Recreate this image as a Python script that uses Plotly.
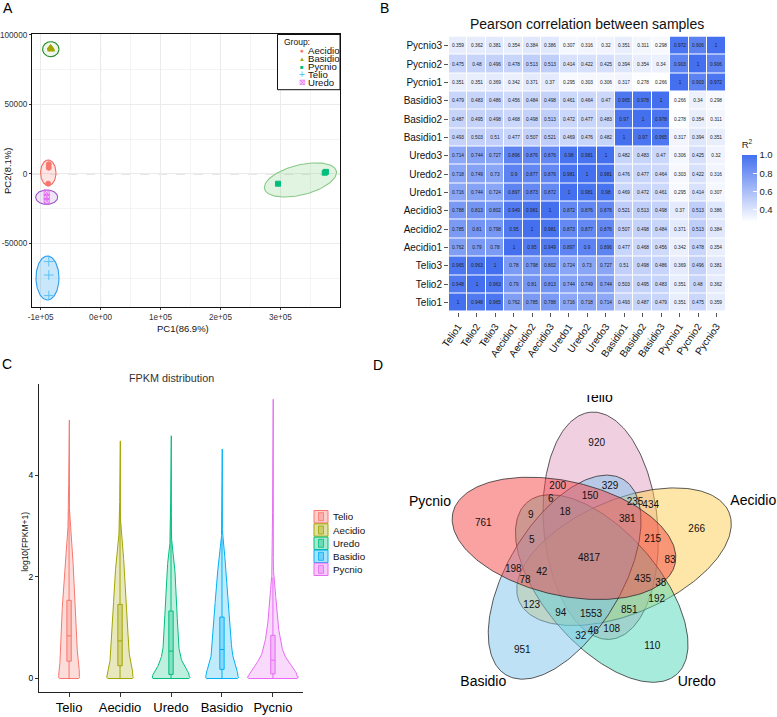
import numpy as np
import plotly.graph_objects as go

W, H = 777, 717
FONT = "Liberation Sans, Arial, Helvetica, sans-serif"


def fx(p):
    return p / W


def fy(p):
    return 1 - p / H


# ===================== DATA =====================
# ---- Panel A: PCA ----
pca_groups = ["Aecidio", "Basidio", "Pycnio", "Telio", "Uredo"]
aecidio_pc1 = [-86500, -86500, -87500]
aecidio_pc2 = [7000, 4500, -7000]
basidio_pc1 = [-83500, -82500, -83000]
basidio_pc2 = [91000, 89500, 90300]
pycnio_pc1 = [296000, 374000, 376000]
pycnio_pc2 = [-7000, 900, 1500]
telio_pc1 = [-86500, -86500, -86500]
telio_pc2 = [-63000, -72700, -87500]
uredo_pc1 = [-90000, -90000, -90000]
uredo_pc2 = [-13500, -16500, -19500]
ellipse_cx = [-87333, -83167, 333500, -88667, -90000]
ellipse_cy = [863, 89784, -4300, -74820, -16690]
pca_xticks = [-1e5, 0, 1e5, 2e5, 3e5]
pca_xticklabels = ["-1e+05", "0e+00", "1e+05", "2e+05", "3e+05"]
pca_yticks = [-50000, 0, 50000, 100000]
pca_yticklabels = ["-50000", "0", "50000", "100000"]

# ---- Panel B: Pearson correlation ----
samples = ["Telio1", "Telio2", "Telio3", "Aecidio1", "Aecidio2", "Aecidio3",
           "Uredo1", "Uredo2", "Uredo3", "Basidio1", "Basidio2", "Basidio3",
           "Pycnio1", "Pycnio2", "Pycnio3"]
corr_values = [
    [1, 0.948, 0.965, 0.762, 0.785, 0.788, 0.716, 0.718, 0.714, 0.493, 0.487, 0.479, 0.351, 0.475, 0.359],
    [0.948, 1, 0.963, 0.79, 0.81, 0.813, 0.744, 0.749, 0.744, 0.503, 0.495, 0.483, 0.351, 0.48, 0.362],
    [0.965, 0.963, 1, 0.78, 0.798, 0.802, 0.724, 0.73, 0.727, 0.51, 0.498, 0.486, 0.369, 0.496, 0.381],
    [0.762, 0.79, 0.78, 1, 0.95, 0.949, 0.897, 0.9, 0.896, 0.477, 0.468, 0.456, 0.342, 0.478, 0.354],
    [0.785, 0.81, 0.798, 0.95, 1, 0.981, 0.873, 0.877, 0.876, 0.507, 0.498, 0.484, 0.371, 0.513, 0.384],
    [0.788, 0.813, 0.802, 0.949, 0.981, 1, 0.872, 0.876, 0.876, 0.521, 0.513, 0.498, 0.37, 0.513, 0.386],
    [0.716, 0.744, 0.724, 0.897, 0.873, 0.872, 1, 0.981, 0.98, 0.469, 0.472, 0.461, 0.295, 0.414, 0.307],
    [0.718, 0.749, 0.73, 0.9, 0.877, 0.876, 0.981, 1, 0.981, 0.476, 0.477, 0.464, 0.303, 0.422, 0.316],
    [0.714, 0.744, 0.727, 0.896, 0.876, 0.876, 0.98, 0.981, 1, 0.482, 0.483, 0.47, 0.306, 0.425, 0.32],
    [0.493, 0.503, 0.51, 0.477, 0.507, 0.521, 0.469, 0.476, 0.482, 1, 0.97, 0.965, 0.317, 0.394, 0.351],
    [0.487, 0.495, 0.498, 0.468, 0.498, 0.513, 0.472, 0.477, 0.483, 0.97, 1, 0.978, 0.278, 0.354, 0.311],
    [0.479, 0.483, 0.486, 0.456, 0.484, 0.498, 0.461, 0.464, 0.47, 0.965, 0.978, 1, 0.266, 0.34, 0.298],
    [0.351, 0.351, 0.369, 0.342, 0.371, 0.37, 0.295, 0.303, 0.306, 0.317, 0.278, 0.266, 1, 0.903, 0.972],
    [0.475, 0.48, 0.496, 0.478, 0.513, 0.513, 0.414, 0.422, 0.425, 0.394, 0.354, 0.34, 0.903, 1, 0.906],
    [0.359, 0.362, 0.381, 0.354, 0.384, 0.386, 0.307, 0.316, 0.32, 0.351, 0.311, 0.298, 0.972, 0.906, 1],
]
colorbar_ticks = [0.4, 0.6, 0.8, 1.0]

# ---- Panel C: FPKM violins ----
violin_groups = ["Telio", "Aecidio", "Uredo", "Basidio", "Pycnio"]
telio_levels = [0, 0.02, 0.1, 0.2, 0.39, 0.92, 1.45, 1.9, 2.23, 2.63, 3.16, 5.09]
telio_density = [9.6, 10.7, 10.7, 10.0, 8.5, 7.5, 6.7, 5.5, 4.2, 2.5, 0.4, 0.3]
aecidio_levels = [0, 0.02, 0.05, 0.16, 0.33, 0.59, 1.12, 1.71, 2.1, 2.56, 2.96, 4.68]
aecidio_density = [12.4, 13.3, 13.3, 12.5, 10.0, 8.7, 7.3, 6.0, 4.7, 2.7, 0.4, 0.3]
uredo_levels = [0, 0.02, 0.05, 0.13, 0.26, 0.52, 0.92, 1.45, 1.97, 2.43, 2.76, 4.78]
uredo_density = [18.0, 19.2, 19.0, 17.5, 12.0, 8.3, 6.7, 5.8, 4.5, 2.7, 0.4, 0.3]
basidio_levels = [0, 0.02, 0.05, 0.13, 0.26, 0.52, 0.92, 1.45, 1.97, 2.5, 2.76, 4.52]
basidio_density = [15.6, 16.7, 16.7, 15.5, 13.0, 10.0, 8.5, 7.0, 5.0, 2.3, 0.4, 0.3]
pycnio_levels = [0, 0.02, 0.05, 0.1, 0.2, 0.33, 0.52, 0.92, 1.45, 1.97, 2.1, 5.5]
pycnio_density = [24.0, 25.7, 25.7, 24.3, 20.0, 15.0, 10.0, 6.0, 3.3, 1.7, 0.4, 0.3]
box_q1 = [0.34, 0.25, 0.08, 0.18, 0.09]
box_median = [0.84, 0.74, 0.54, 0.57, 0.36]
box_q3 = [1.54, 1.46, 1.33, 1.21, 0.85]

# ---- Panel D: Venn ----
venn_sets = ["Pycnio", "Telio", "Aecidio", "Uredo", "Basidio"]
venn_counts = [920, 329, 200, 6, 150, 235, 434, 9, 18, 381, 761, 266, 5, 215, 4817,
               83, 198, 42, 78, 435, 38, 192, 123, 94, 1553, 851, 46, 108, 32, 951, 110]

# ===================== STYLE / LAYOUT =====================
hue = {"Telio": "#F8766D", "Aecidio": "#A3A500", "Uredo": "#00BF7D",
       "Basidio": "#00B0F6", "Pycnio": "#E76BF3"}

fig = go.Figure()

# ---------------- Panel A ----------------
A_XPX = [32, 340]
A_YPX = [34, 307]
A_XR = [-114500, 399500]
A_YR = [-95700, 100700]
sx = (A_XR[1] - A_XR[0]) / (A_XPX[1] - A_XPX[0])
sy = (A_YR[1] - A_YR[0]) / (A_YPX[1] - A_YPX[0])

ell_a_px = [7.7, 8.2, 37, 11.5, 11]
ell_b_px = [12.8, 7.5, 15, 22, 7.2]
ell_ang = [0, 0, 14, 0, 0]
ell_line = ["#F26B63", "#1F8A1F", "#86C986", "#2A9DF0", "#9A4FCB"]
ell_fill = ["rgba(248,118,109,0.20)", "rgba(120,190,120,0.12)", "rgba(120,200,120,0.22)",
            "rgba(60,170,240,0.28)", "rgba(170,110,210,0.18)"]

for i, g in enumerate(pca_groups):
    t = np.linspace(0, 2 * np.pi, 160)
    th = np.radians(ell_ang[i])
    ex = ell_a_px[i] * np.cos(t) * np.cos(th) - ell_b_px[i] * np.sin(t) * np.sin(th)
    ey = ell_a_px[i] * np.cos(t) * np.sin(th) + ell_b_px[i] * np.sin(t) * np.cos(th)
    fig.add_trace(go.Scatter(x=ellipse_cx[i] + ex * sx, y=ellipse_cy[i] + ey * sy,
                             mode="lines", fill="toself", fillcolor=ell_fill[i],
                             line=dict(color=ell_line[i], width=1.1),
                             showlegend=False, hoverinfo="skip", xaxis="x", yaxis="y"))

pca_pts = {
    "Aecidio": (aecidio_pc1, aecidio_pc2, "circle", 5, "#F8766D"),
    "Basidio": (basidio_pc1, basidio_pc2, "triangle-up", 6, "#A3A500"),
    "Pycnio": (pycnio_pc1, pycnio_pc2, "square", 5, "#00BF7D"),
    "Telio": (telio_pc1, telio_pc2, "cross-thin-open", 7, "#5BC2F5"),
    "Uredo": (uredo_pc1, uredo_pc2, "square-x-open", 5, "#E76BF3"),
}
for g in pca_groups:
    xs, ys, sym, sz, col = pca_pts[g]
    fig.add_trace(go.Scatter(x=xs, y=ys, mode="markers", name=g,
                             marker=dict(symbol=sym, size=sz, color=col,
                                         line=dict(color=col, width=1)),
                             showlegend=False, xaxis="x", yaxis="y"))

# ---------------- Panel B ----------------
cell_text = [[f"{v:g}" for v in row] for row in corr_values]
zmin = min(min(r) for r in corr_values)
fig.add_trace(go.Heatmap(
    z=corr_values, x=samples, y=samples, xaxis="x2", yaxis="y2",
    colorscale=[[0, "#FFFFFF"], [1, "#4470F0"]], zmin=zmin, zmax=1,
    xgap=1, ygap=1, text=cell_text, texttemplate="%{text}",
    textfont=dict(size=4.8, color="#222222", family=FONT),
    colorbar=dict(x=fx(741.7), xanchor="left", y=fy(180), yanchor="middle",
                  lenmode="pixels", len=84, thickness=15, xpad=0, ypad=0,
                  outlinewidth=0, tickvals=colorbar_ticks,
                  ticktext=[f"{v:.1f}" for v in colorbar_ticks],
                  ticks="inside", ticklen=4, tickcolor="white",
                  tickfont=dict(size=9.5, color="#222", family=FONT),
                  title=dict(text="R<sup>2</sup>", side="top",
                             font=dict(size=9.5, color="#222", family=FONT))),
    hoverinfo="skip"))

# ---------------- Panel C ----------------
C_XR = [-0.59, 4.59]
C_XPX = [39, 303]
unit_px = (C_XPX[1] - C_XPX[0]) / (C_XR[1] - C_XR[0])
profiles = [(telio_levels, telio_density), (aecidio_levels, aecidio_density),
            (uredo_levels, uredo_density), (basidio_levels, basidio_density),
            (pycnio_levels, pycnio_density)]


def rgba(hexc, a):
    hexc = hexc.lstrip("#")
    r, g, b = int(hexc[0:2], 16), int(hexc[2:4], 16), int(hexc[4:6], 16)
    return f"rgba({r},{g},{b},{a})"


for i, g in enumerate(violin_groups):
    lv, dens = profiles[i]
    yy = np.linspace(0, lv[-1], 400)
    hw = np.interp(yy, lv, dens)
    k = 7
    pad = np.pad(hw, (k, k), mode="edge")
    hw_s = np.convolve(pad, np.ones(2 * k + 1) / (2 * k + 1), mode="same")[k:-k]
    hw_s[:3] = hw[:3]
    hw_s = hw_s / unit_px
    xs = np.concatenate([i + hw_s, (i - hw_s)[::-1], [i + hw_s[0]]])
    ys = np.concatenate([yy, yy[::-1], [yy[0]]])
    fig.add_trace(go.Scatter(x=xs, y=ys, mode="lines", fill="toself",
                             fillcolor=rgba(hue[g], 0.25),
                             line=dict(color=hue[g], width=1), name=g,
                             showlegend=False, hoverinfo="skip",
                             xaxis="x3", yaxis="y3"))
    iqr = box_q3[i] - box_q1[i]
    fig.add_trace(go.Box(x=[i], q1=[box_q1[i]], median=[box_median[i]], q3=[box_q3[i]],
                         lowerfence=[0], upperfence=[min(lv[-1], box_q3[i] + 1.5 * iqr)],
                         width=0.085, whiskerwidth=0, boxpoints=False,
                         fillcolor=rgba(hue[g], 0.3),
                         line=dict(color=hue[g], width=1),
                         showlegend=False, hoverinfo="skip",
                         xaxis="x3", yaxis="y3"))

# ---------------- Panel D ----------------
venn_fill = {"Telio": "rgba(225,160,195,0.5)", "Aecidio": "rgba(252,205,80,0.5)",
             "Uredo": "rgba(80,215,185,0.5)", "Basidio": "rgba(125,195,235,0.5)",
             "Pycnio": "rgba(245,70,70,0.5)"}
VC = (591, 557.3)
draw_order = ["Telio", "Aecidio", "Uredo", "Basidio", "Pycnio"]
for g in draw_order:
    kk = venn_sets.index(g)
    phi = np.radians(215 + 72 * kk)
    psi = np.radians(193 + 72 * kk)
    cx = VC[0] + 33 * np.cos(phi)
    cy = VC[1] + 33 * np.sin(phi)
    t = np.linspace(0, 2 * np.pi, 240)
    a, b = 114, 57
    ex = a * np.cos(t) * np.cos(psi) - b * np.sin(t) * np.sin(psi)
    ey = a * np.cos(t) * np.sin(psi) + b * np.sin(t) * np.cos(psi)
    fig.add_trace(go.Scatter(x=cx + ex, y=cy + ey, mode="lines", fill="toself",
                             fillcolor=venn_fill[g],
                             line=dict(color="rgba(40,40,40,0.85)", width=0.9),
                             showlegend=False, hoverinfo="skip", name=g,
                             xaxis="x4", yaxis="y4"))

venn_count_x = [596.7, 610, 557.7, 550.7, 590, 635, 650.7, 530.7, 565, 627.3, 483.3, 696.7,
                531.7, 652.7, 589, 670, 513.3, 541.7, 525, 642.7, 660.7, 656.7, 531.7,
                560.7, 591, 629.3, 593.3, 611.7, 580.7, 522.3, 652.3]
venn_count_y = [443.3, 486, 486.7, 499, 496.7, 502.7, 505, 515.7, 512.7, 519, 523.3, 529,
                540, 539, 558.3, 560, 569, 572.3, 580.7, 579, 583.3, 599.3, 605.7,
                613.3, 614.3, 610.7, 631, 629.3, 636, 650.7, 646]
fig.add_trace(go.Scatter(x=venn_count_x, y=venn_count_y, mode="text",
                         text=[str(c) for c in venn_counts],
                         textfont=dict(size=10, color="#111", family=FONT),
                         showlegend=False, hoverinfo="skip", xaxis="x4", yaxis="y4"))
venn_label_x = [430, 598.3, 753.3, 696.7, 483.3]
venn_label_y = [502.3, 398.3, 501.7, 682.3, 682.3]
fig.add_trace(go.Scatter(x=venn_label_x, y=venn_label_y, mode="text", text=venn_sets,
                         textfont=dict(size=14, color="#000", family=FONT),
                         showlegend=False, hoverinfo="skip", xaxis="x4", yaxis="y4"))

# ===================== AXES =====================
tickf = dict(size=8.2, color="#333", family=FONT)
fig.update_layout(
    width=W, height=H, autosize=False,
    margin=dict(l=0, r=0, t=0, b=0, autoexpand=False),
    paper_bgcolor="white", plot_bgcolor="white",
    font=dict(family=FONT, color="#000"),
    showlegend=False,
    xaxis=dict(domain=[fx(A_XPX[0]), fx(A_XPX[1])], range=A_XR, tickvals=pca_xticks,
               ticktext=pca_xticklabels, tickfont=tickf, ticks="outside", ticklen=2,
               tickcolor="#333", showline=True, mirror=True, linecolor="#111", linewidth=1.2,
               showgrid=True, gridcolor="#EBEBEB", gridwidth=0.8, zeroline=False,
               minor=dict(tickvals=[-50000, 50000, 150000, 250000, 350000],
                          showgrid=True, gridcolor="#F4F4F4", gridwidth=0.6, ticks=""),
               anchor="y", automargin=False),
    yaxis=dict(domain=[fy(A_YPX[1]), fy(A_YPX[0])], range=A_YR, tickvals=pca_yticks,
               ticktext=pca_yticklabels, tickfont=tickf, ticks="outside", ticklen=2,
               tickcolor="#333", showline=True, mirror=True, linecolor="#111", linewidth=1.2,
               showgrid=True, gridcolor="#EBEBEB", gridwidth=0.8, zeroline=False,
               minor=dict(tickvals=[-75000, -25000, 25000, 75000],
                          showgrid=True, gridcolor="#F4F4F4", gridwidth=0.6, ticks=""),
               anchor="x", automargin=False),
    xaxis2=dict(domain=[fx(449), fx(725.7)], anchor="y2", type="category",
                tickangle=-55, tickfont=dict(size=10, color="#111", family=FONT),
                ticks="outside", ticklen=4, tickcolor="#555", showgrid=False,
                zeroline=False, showline=False, automargin=False),
    yaxis2=dict(domain=[fy(311.7), fy(36.5)], anchor="x2", type="category",
                tickfont=dict(size=10, color="#111", family=FONT),
                ticks="outside", ticklen=4, tickcolor="#555", showgrid=False,
                zeroline=False, showline=False, automargin=False),
    xaxis3=dict(domain=[fx(C_XPX[0]), fx(C_XPX[1])], anchor="y3", range=C_XR,
                tickvals=list(range(len(violin_groups))), ticktext=violin_groups,
                tickfont=dict(size=13, color="#000", family=FONT), ticks="outside",
                ticklen=4, tickcolor="#333", showline=True, linecolor="#222",
                linewidth=1, showgrid=False, zeroline=False, automargin=False),
    yaxis3=dict(domain=[fy(691.7), fy(384)], anchor="x3", range=[-0.26, 5.8],
                tickvals=[0, 2, 4], tickfont=dict(size=8.5, color="#000", family=FONT),
                ticks="outside", ticklen=3, tickcolor="#333", showline=True,
                linecolor="#222", linewidth=1, showgrid=False, zeroline=False,
                automargin=False),
    xaxis4=dict(domain=[fx(380), 1], anchor="y4", range=[380, 777], visible=False,
                fixedrange=True, automargin=False),
    yaxis4=dict(domain=[0, fy(395)], anchor="x4", range=[717, 395], visible=False,
                fixedrange=True, automargin=False),
)

shapes = []
shapes.append(dict(type="line", xref="x", yref="y domain", x0=0, x1=0, y0=0, y1=1,
                   line=dict(color="#BBBBBB", width=0.8, dash="dash"), layer="below"))
shapes.append(dict(type="line", xref="x domain", yref="y", x0=0, x1=1, y0=0, y1=0,
                   line=dict(color="#BBBBBB", width=0.8, dash="dash"), layer="below"))
shapes.append(dict(type="rect", xref="paper", yref="paper", x0=fx(277.5), x1=fx(340),
                   y0=fy(89.7), y1=fy(34.5), line=dict(color="#111", width=1),
                   fillcolor="white", layer="above"))
leg_c_y = [516.7, 530, 543.3, 556.3, 569.3]
for g, yc in zip(violin_groups, leg_c_y):
    shapes.append(dict(type="rect", xref="paper", yref="paper", x0=fx(314), x1=fx(328),
                       y0=fy(yc + 6.2), y1=fy(yc - 6.2), line=dict(color=hue[g], width=1),
                       fillcolor=rgba(hue[g], 0.35)))
    shapes.append(dict(type="rect", xref="paper", yref="paper", x0=fx(318.5), x1=fx(323.5),
                       y0=fy(yc + 4), y1=fy(yc - 4), line=dict(color=hue[g], width=0.8),
                       fillcolor=rgba(hue[g], 0.35)))
fig.update_layout(shapes=shapes)

ann = []


def txt(x, y, s, size, color="#000", xanchor="center", yanchor="middle", angle=0):
    ann.append(dict(x=fx(x), y=fy(y), xref="paper", yref="paper", text=s,
                    showarrow=False, xanchor=xanchor, yanchor=yanchor, textangle=angle,
                    font=dict(size=size, color=color, family=FONT)))


txt(8, 8, "A", 14)
txt(384, 8, "B", 14)
txt(7, 364, "C", 14)
txt(378, 365, "D", 14)
txt(182.5, 329, "PC1(86.9%)", 9.5, "#111")
txt(7, 171, "PC2(8.1%)", 9.5, "#111", angle=-90)
txt(281.5, 41.7, "Group:", 8.5, "#111", xanchor="left")
leg_a_sym = {"Aecidio": ("●", "#F8766D", 6.5), "Basidio": ("▲", "#A3A500", 6),
             "Pycnio": ("■", "#00BF7D", 6), "Telio": ("+", "#5BC2F5", 10),
             "Uredo": ("⊠", "#E76BF3", 7.5)}
leg_a_y = [50.7, 58.7, 66.6, 74.7, 82.7]
for g, yc in zip(pca_groups, leg_a_y):
    s, c, sz = leg_a_sym[g]
    txt(302, yc, s, sz, c)
    txt(305.5, yc, g, 9.6, "#111", xanchor="left")
txt(586.7, 24, "Pearson correlation between samples", 14, "#111")
txt(171, 378, "FPKM distribution", 10.8, "#333")
txt(25, 541.7, "log10(FPKM+1)", 8.5, "#111", angle=-90)
for g, yc in zip(violin_groups, leg_c_y):
    txt(330.5, yc, g, 9.8, "#111", xanchor="left")

fig.update_layout(annotations=ann)

fig.write_html("out.html", config={"displayModeBar": False},
               post_script="document.body.style.margin='0px';"
                           "document.body.style.overflow='hidden';")
